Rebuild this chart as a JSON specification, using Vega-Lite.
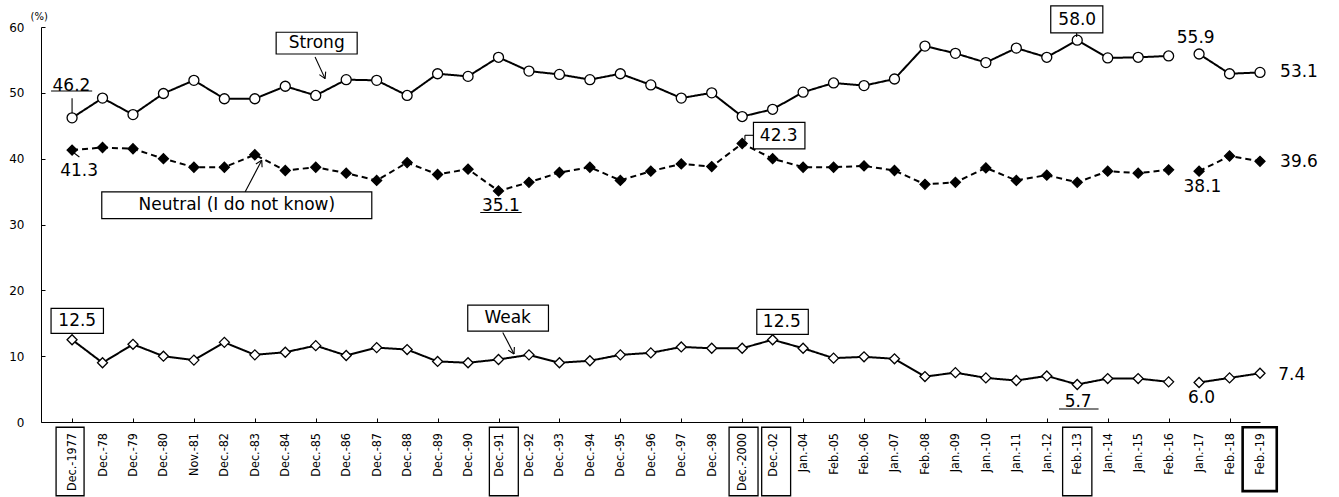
{
  "$schema": "https://vega.github.io/schema/vega-lite/v6.json",
  "width": 1219,
  "height": 395,
  "autosize": {"type": "none"},
  "padding": {"left": 41, "top": 27, "right": 79, "bottom": 75},
  "background": "white",
  "config": {
    "view": {"stroke": null},
    "font": "DejaVu Sans",
    "axis": {"grid": false, "title": null, "domainColor": "black", "tickColor": "black", "labelColor": "black"}
  },
  "datasets": {
    "main": [
      {"i": 0, "period": "Dec.-1977", "survey": "A", "strong": 46.2, "neutral": 41.3, "weak": 12.5},
      {"i": 1, "period": "Dec.-78", "survey": "A", "strong": 49.2, "neutral": 41.7, "weak": 9.0},
      {"i": 2, "period": "Dec.-79", "survey": "A", "strong": 46.7, "neutral": 41.5, "weak": 11.8},
      {"i": 3, "period": "Dec.-80", "survey": "A", "strong": 49.9, "neutral": 40.0, "weak": 10.0},
      {"i": 4, "period": "Nov.-81", "survey": "A", "strong": 51.9, "neutral": 38.7, "weak": 9.4},
      {"i": 5, "period": "Dec.-82", "survey": "A", "strong": 49.1, "neutral": 38.7, "weak": 12.1},
      {"i": 6, "period": "Dec.-83", "survey": "A", "strong": 49.1, "neutral": 40.6, "weak": 10.2},
      {"i": 7, "period": "Dec.-84", "survey": "A", "strong": 51.0, "neutral": 38.2, "weak": 10.6},
      {"i": 8, "period": "Dec.-85", "survey": "A", "strong": 49.6, "neutral": 38.7, "weak": 11.6},
      {"i": 9, "period": "Dec.-86", "survey": "A", "strong": 52.0, "neutral": 37.8, "weak": 10.1},
      {"i": 10, "period": "Dec.-87", "survey": "A", "strong": 51.9, "neutral": 36.7, "weak": 11.3},
      {"i": 11, "period": "Dec.-88", "survey": "A", "strong": 49.6, "neutral": 39.4, "weak": 11.0},
      {"i": 12, "period": "Dec.-89", "survey": "A", "strong": 52.9, "neutral": 37.6, "weak": 9.2},
      {"i": 13, "period": "Dec.-90", "survey": "A", "strong": 52.5, "neutral": 38.4, "weak": 9.0},
      {"i": 14, "period": "Dec.-91", "survey": "A", "strong": 55.4, "neutral": 35.1, "weak": 9.5},
      {"i": 15, "period": "Dec.-92", "survey": "A", "strong": 53.3, "neutral": 36.4, "weak": 10.2},
      {"i": 16, "period": "Dec.-93", "survey": "A", "strong": 52.8, "neutral": 37.9, "weak": 9.0},
      {"i": 17, "period": "Dec.-94", "survey": "A", "strong": 52.0, "neutral": 38.7, "weak": 9.3},
      {"i": 18, "period": "Dec.-95", "survey": "A", "strong": 52.9, "neutral": 36.7, "weak": 10.2},
      {"i": 19, "period": "Dec.-96", "survey": "A", "strong": 51.2, "neutral": 38.1, "weak": 10.5},
      {"i": 20, "period": "Dec.-97", "survey": "A", "strong": 49.2, "neutral": 39.2, "weak": 11.4},
      {"i": 21, "period": "Dec.-98", "survey": "A", "strong": 50.0, "neutral": 38.8, "weak": 11.2},
      {"i": 22, "period": "Dec.-2000", "survey": "A", "strong": 46.4, "neutral": 42.3, "weak": 11.2},
      {"i": 23, "period": "Dec.-02", "survey": "A", "strong": 47.5, "neutral": 40.0, "weak": 12.5},
      {"i": 24, "period": "Jan.-04", "survey": "A", "strong": 50.1, "neutral": 38.7, "weak": 11.2},
      {"i": 25, "period": "Feb.-05", "survey": "A", "strong": 51.5, "neutral": 38.7, "weak": 9.7},
      {"i": 26, "period": "Feb.-06", "survey": "A", "strong": 51.1, "neutral": 38.9, "weak": 9.9},
      {"i": 27, "period": "Jan.-07", "survey": "A", "strong": 52.1, "neutral": 38.2, "weak": 9.6},
      {"i": 28, "period": "Feb.-08", "survey": "A", "strong": 57.1, "neutral": 36.1, "weak": 6.9},
      {"i": 29, "period": "Jan.-09", "survey": "A", "strong": 56.0, "neutral": 36.4, "weak": 7.5},
      {"i": 30, "period": "Jan.-10", "survey": "A", "strong": 54.6, "neutral": 38.6, "weak": 6.7},
      {"i": 31, "period": "Jan.-11", "survey": "A", "strong": 56.8, "neutral": 36.7, "weak": 6.3},
      {"i": 32, "period": "Jan.-12", "survey": "A", "strong": 55.4, "neutral": 37.5, "weak": 7.0},
      {"i": 33, "period": "Feb.-13", "survey": "A", "strong": 58.0, "neutral": 36.4, "weak": 5.7},
      {"i": 34, "period": "Jan.-14", "survey": "A", "strong": 55.3, "neutral": 38.1, "weak": 6.6},
      {"i": 35, "period": "Jan.-15", "survey": "A", "strong": 55.4, "neutral": 37.8, "weak": 6.6},
      {"i": 36, "period": "Feb.-16", "survey": "A", "strong": 55.6, "neutral": 38.3, "weak": 6.1},
      {"i": 37, "period": "Jan.-17", "survey": "B", "strong": 55.9, "neutral": 38.1, "weak": 6.0},
      {"i": 38, "period": "Feb.-18", "survey": "B", "strong": 52.9, "neutral": 40.4, "weak": 6.7},
      {"i": 39, "period": "Feb.-19", "survey": "B", "strong": 53.1, "neutral": 39.6, "weak": 7.4}
    ],
    "axisBoxes": [
      {"i1": -0.525, "i2": 0.394},
      {"i1": 13.70, "i2": 14.65},
      {"i1": 21.57, "i2": 22.52},
      {"i1": 22.64, "i2": 23.59},
      {"i1": 32.52, "i2": 33.48}
    ],
    "heavyBox": [
      {"i1": 38.43, "i2": 39.55}
    ],
    "rules": [
      {"i1": 7.978, "v1": 55.43, "i2": 8.306, "v2": 52.16},
      {"i1": 8.326, "v1": 53.22, "i2": 8.306, "v2": 52.16},
      {"i1": 8.119, "v1": 52.76, "i2": 8.306, "v2": 52.16},
      {"i1": 5.680, "v1": 34.95, "i2": 6.228, "v2": 39.76},
      {"i1": 6.034, "v1": 39.20, "i2": 6.228, "v2": 39.76},
      {"i1": 6.238, "v1": 38.69, "i2": 6.228, "v2": 39.76},
      {"i1": 14.14, "v1": 13.61, "i2": 14.51, "v2": 10.32},
      {"i1": 14.52, "v1": 11.38, "i2": 14.51, "v2": 10.32},
      {"i1": 14.32, "v1": 10.90, "i2": 14.51, "v2": 10.32},
      {"i1": 0.0, "v1": 49.17, "i2": 0.0, "v2": 46.89},
      {"i1": 0.066, "v1": 40.86, "i2": 0.24, "v2": 40.26},
      {"i1": 22.09, "v1": 43.55, "i2": 22.37, "v2": 43.55},
      {"i1": 22.09, "v1": 43.55, "i2": 22.09, "v2": 42.8},
      {"i1": 32.98, "v1": 59.1, "i2": 32.98, "v2": 58.5},
      {"i1": -0.69, "v1": 50.27, "i2": 0.66, "v2": 50.27},
      {"i1": 13.4, "v1": 31.82, "i2": 14.76, "v2": 31.82},
      {"i1": 32.4, "v1": 1.97, "i2": 33.7, "v2": 1.97}
    ],
    "boxed": [
      {"t": "Strong", "i": 8.03, "v": 57.5, "i1": 6.70, "i2": 9.36, "v1": 55.9, "v2": 59.2},
      {"t": "Neutral (I do not know)", "i": 5.41, "v": 32.9, "i1": 0.975, "i2": 9.84, "v1": 30.9, "v2": 34.95},
      {"t": "Weak", "i": 14.3, "v": 15.8, "i1": 12.99, "i2": 15.64, "v1": 13.8, "v2": 17.75},
      {"t": "12.5", "i": 0.17, "v": 15.4, "i1": -0.69, "i2": 1.03, "v1": 13.46, "v2": 17.25},
      {"t": "12.5", "i": 23.3, "v": 15.2, "i1": 22.48, "i2": 24.17, "v1": 13.3, "v2": 17.1},
      {"t": "42.3", "i": 23.2, "v": 43.5, "i1": 22.37, "i2": 24.06, "v1": 41.5, "v2": 45.5},
      {"t": "58.0", "i": 33.0, "v": 61.1, "i1": 32.13, "i2": 33.84, "v1": 59.1, "v2": 63.2}
    ],
    "plain": [
      {"t": "46.2", "i": -0.02, "v": 51.1},
      {"t": "41.3", "i": 0.23, "v": 38.1},
      {"t": "35.1", "i": 14.08, "v": 32.8},
      {"t": "55.9", "i": 36.89, "v": 58.3},
      {"t": "53.1", "i": 40.28, "v": 53.1},
      {"t": "39.6", "i": 40.28, "v": 39.5},
      {"t": "38.1", "i": 37.11, "v": 35.7},
      {"t": "7.4", "i": 40.04, "v": 7.2},
      {"t": "6.0", "i": 37.08, "v": 3.6},
      {"t": "5.7", "i": 33.03, "v": 3.0}
    ],
    "pct": [
      {"t": "(%)", "i": -1.08, "v": 61.5}
    ]
  },
  "layer": [
    {
      "data": {"name": "main"},
      "transform": [{"fold": ["strong", "neutral", "weak"], "as": ["series", "value"]}],
      "mark": {"type": "line", "strokeWidth": 2, "color": "black", "clip": false},
      "encoding": {
        "x": {
          "field": "i", "type": "quantitative",
          "scale": {"domain": [-1.02, 39], "nice": false, "zero": false},
          "axis": {
            "values": [0,1,2,3,4,5,6,7,8,9,10,11,12,13,14,15,16,17,18,19,20,21,22,23,24,25,26,27,28,29,30,31,32,33,34,35,36,37,38,39],
            "labels": false, "tickSize": -4, "tickWidth": 1, "domainWidth": 1
          }
        },
        "y": {
          "field": "value", "type": "quantitative",
          "scale": {"domain": [0, 60], "nice": false, "zero": true},
          "axis": {
            "values": [0, 10, 20, 30, 40, 50, 60],
            "tickSize": -4,
            "labelFont": "DejaVu Sans", "labelFontSize": 12,
            "labelPadding": 21
          }
        },
        "detail": [{"field": "series"}, {"field": "survey"}],
        "strokeDash": {
          "field": "series", "type": "nominal",
          "scale": {"domain": ["strong", "neutral", "weak"], "range": [[1, 0], [6, 4], [1, 0]]},
          "legend": null
        }
      }
    },
    {
      "data": {"name": "main"},
      "transform": [{"fold": ["strong", "neutral", "weak"], "as": ["series", "value"]}],
      "mark": {"type": "point", "filled": true, "stroke": "black", "strokeWidth": 1.3, "size": 100, "opacity": 1, "clip": false},
      "encoding": {
        "x": {"field": "i", "type": "quantitative", "title": null},
        "y": {"field": "value", "type": "quantitative", "title": null},
        "shape": {
          "field": "series", "type": "nominal",
          "scale": {"domain": ["strong", "neutral", "weak"], "range": ["circle", "diamond", "diamond"]},
          "legend": null
        },
        "fill": {
          "field": "series", "type": "nominal",
          "scale": {"domain": ["strong", "neutral", "weak"], "range": ["white", "black", "white"]},
          "legend": null
        }
      }
    },
    {
      "data": {"name": "main"},
      "mark": {"type": "text", "angle": 270, "align": "right", "baseline": "middle", "font": "DejaVu Sans Condensed, Liberation Sans, sans-serif", "fontSize": 12.5, "color": "black", "clip": false},
      "encoding": {
        "x": {"field": "i", "type": "quantitative", "title": null},
        "y": {"datum": -1.67, "type": "quantitative", "title": null},
        "text": {"field": "period"}
      }
    },
    {
      "data": {"name": "axisBoxes"},
      "mark": {"type": "rect", "fill": null, "fillOpacity": 0, "stroke": "black", "strokeWidth": 1.3, "clip": false},
      "encoding": {
        "x": {"field": "i1", "type": "quantitative", "title": null},
        "x2": {"field": "i2"},
        "y": {"datum": -0.8, "type": "quantitative", "title": null},
        "y2": {"datum": -11.2}
      }
    },
    {
      "data": {"name": "heavyBox"},
      "mark": {"type": "rect", "fill": null, "fillOpacity": 0, "stroke": "black", "strokeWidth": 2.6, "clip": false},
      "encoding": {
        "x": {"field": "i1", "type": "quantitative", "title": null},
        "x2": {"field": "i2"},
        "y": {"datum": -0.8, "type": "quantitative", "title": null},
        "y2": {"datum": -10.5}
      }
    },
    {
      "data": {"name": "rules"},
      "mark": {"type": "rule", "color": "black", "strokeWidth": 1.1, "clip": false},
      "encoding": {
        "x": {"field": "i1", "type": "quantitative", "title": null},
        "x2": {"field": "i2"},
        "y": {"field": "v1", "type": "quantitative", "title": null},
        "y2": {"field": "v2"}
      }
    },
    {
      "data": {"name": "boxed"},
      "mark": {"type": "rect", "fill": "white", "stroke": "black", "strokeWidth": 1.2, "clip": false},
      "encoding": {
        "x": {"field": "i1", "type": "quantitative", "title": null},
        "x2": {"field": "i2"},
        "y": {"field": "v1", "type": "quantitative", "title": null},
        "y2": {"field": "v2"}
      }
    },
    {
      "data": {"name": "boxed"},
      "mark": {"type": "text", "font": "DejaVu Sans", "fontSize": 17, "color": "black", "align": "center", "baseline": "middle", "clip": false},
      "encoding": {
        "x": {"field": "i", "type": "quantitative", "title": null},
        "y": {"field": "v", "type": "quantitative", "title": null},
        "text": {"field": "t"}
      }
    },
    {
      "data": {"name": "plain"},
      "mark": {"type": "text", "font": "DejaVu Sans", "fontSize": 17, "color": "black", "align": "center", "baseline": "middle", "clip": false},
      "encoding": {
        "x": {"field": "i", "type": "quantitative", "title": null},
        "y": {"field": "v", "type": "quantitative", "title": null},
        "text": {"field": "t"}
      }
    },
    {
      "data": {"name": "pct"},
      "mark": {"type": "text", "font": "DejaVu Sans", "fontSize": 10, "color": "black", "align": "center", "baseline": "middle", "clip": false},
      "encoding": {
        "x": {"field": "i", "type": "quantitative", "title": null},
        "y": {"field": "v", "type": "quantitative", "title": null},
        "text": {"field": "t"}
      }
    }
  ]
}
